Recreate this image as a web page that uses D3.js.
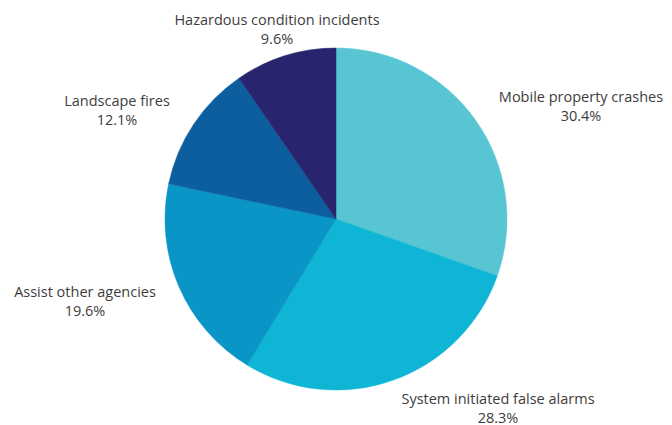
<!DOCTYPE html>
<html>
<head>
<meta charset="utf-8">
<script src="https://cdn.jsdelivr.net/npm/d3@7"></script>
<style>
  body { margin: 0; background: #fff; }
  svg { display: block; }
</style>
</head>
<body>
<main></main>
<script>
const width = 672;
const height = 425;

const categories = ["Mobile property crashes", "System initiated false alarms", "Assist other agencies", "Landscape fires", "Hazardous condition incidents"];
const shares = [30.4, 28.3, 19.6, 12.1, 9.6];
const colors = ["#57c5d2", "#0fb5d4", "#0a95c7", "#0d5e9e", "#28246e"];
// label anchor points (centre of the first label line)
const labelX = [581, 498, 85, 117, 277];
const labelY = [97, 399, 292, 101, 20];

const cx = 336, cy = 219, radius = 171;

const svg = d3.select('main')
  .append('svg')
  .attr('width', width)
  .attr('height', height);

const pie = d3.pie().sort(null).value(d => d.value);
const arc = d3.arc().innerRadius(0).outerRadius(radius);

const data = categories.map((c, i) => ({name: c, value: shares[i], color: colors[i], lx: labelX[i], ly: labelY[i]}));

const g = svg.append('g').attr('transform', `translate(${cx},${cy})`);

g.selectAll('path')
  .data(pie(data))
  .enter()
  .append('path')
  .attr('d', arc)
  .style('fill', d => d.data.color)
  .style('stroke', d => d.data.color)
  .style('stroke-width', 0.5);

const label = svg.append('g')
  .selectAll('text')
  .data(data)
  .enter()
  .append('text')
  .attr('text-anchor', 'middle')
  .style('font-family', '"Open Sans", sans-serif')
  .style('font-size', '14.5px')
  .style('fill', '#3d3d3d');

label.append('tspan')
  .attr('x', d => d.lx)
  .attr('y', d => d.ly + 5)
  .text(d => d.name);

label.append('tspan')
  .attr('x', d => d.lx)
  .attr('y', d => d.ly + 23.5)
  .text(d => d.value.toFixed(1) + '%');
</script>
</body>
</html>
